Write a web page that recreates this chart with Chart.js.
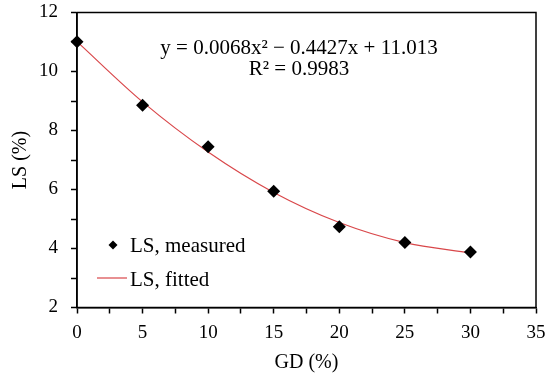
<!DOCTYPE html>
<html>
<head>
<meta charset="utf-8">
<script src="https://cdn.jsdelivr.net/npm/chart.js@4"></script>
<style>
  html, body { margin: 0; padding: 0; background: #fff; }
  #wrap { width: 550px; height: 384px; }
</style>
</head>
<body>
<div id="wrap"><canvas id="ls"></canvas></div>
<script>
// GD (%) where LS was measured
const gd = [0, 5, 10, 15, 20, 25, 30];
// measured LS (%)
const lsMeasured = [11.01, 8.86, 7.45, 5.94, 4.74, 4.2, 3.88];
const lsFitted = [11.013, 8.97, 7.27, 5.9, 4.88, 4.2, 3.85];
const equationLines = ["y = 0.0068x\u00b2 \u2212 0.4427x + 11.013", "R\u00b2 = 0.9983"];

const serif = "'Liberation Serif', 'Times New Roman', serif";
const lineColor = "#d9474a";

// frame, equation and in-plot legend
const extras = {
  id: "extras",
  afterDraw(chart) {
    const { ctx, chartArea: a } = chart;
    ctx.save();
    ctx.strokeStyle = "#000";
    ctx.lineWidth = 1.5;
    ctx.strokeRect(a.left, a.top, a.right - a.left, a.bottom - a.top);

    ctx.fillStyle = "#000";
    ctx.font = "21px " + serif;
    ctx.textAlign = "center";
    ctx.textBaseline = "middle";
    ctx.fillText(equationLines[0], 299, 48);
    ctx.fillText(equationLines[1], 299, 69);

    // legend
    ctx.textAlign = "left";
    ctx.beginPath();
    const mx = 113, my = 245, r = 4.5;
    ctx.moveTo(mx, my - r);
    ctx.lineTo(mx + r, my);
    ctx.lineTo(mx, my + r);
    ctx.lineTo(mx - r, my);
    ctx.closePath();
    ctx.fill();
    ctx.fillText(chart.data.datasets[0].label, 130, 246);

    ctx.strokeStyle = lineColor;
    ctx.lineWidth = 1.2;
    ctx.beginPath();
    ctx.moveTo(97, 278);
    ctx.lineTo(127, 278);
    ctx.stroke();
    ctx.fillText(chart.data.datasets[1].label, 130, 280);
    ctx.restore();
  },
};

new Chart(document.getElementById("ls"), {
  type: "scatter",
  plugins: [extras],
  data: {
    datasets: [
      {
        label: "LS, measured",
        data: gd.map((x, i) => ({ x: x, y: lsMeasured[i] })),
        pointStyle: "rectRot",
        pointRadius: 6.5,
        pointHoverRadius: 6.5,
        backgroundColor: "#000",
        borderColor: "#000",
        borderWidth: 0,
        clip: false,
        order: 0,
      },
      {
        label: "LS, fitted",
        data: gd.map((x, i) => ({ x: x, y: lsFitted[i] })),
        showLine: true,
        cubicInterpolationMode: "monotone",
        borderColor: lineColor,
        borderWidth: 1.2,
        pointRadius: 0,
        clip: false,
        order: 1,
      },
    ],
  },
  options: {
    responsive: true,
    maintainAspectRatio: false,
    animation: false,
    layout: { padding: { top: 12.5, right: 14, left: 0, bottom: 0 } },
    plugins: {
      legend: { display: false },
      tooltip: { enabled: false },
    },
    scales: {
      x: {
        type: "linear",
        min: 0,
        max: 35,
        afterFit(scale) {
          scale.height = 76.5;
          scale.paddingLeft = 0;
          scale.paddingRight = 0;
        },
        border: { display: true, color: "#000", width: 1.5 },
        grid: {
          drawOnChartArea: false,
          drawTicks: true,
          tickLength: 6,
          tickColor: "#000",
          tickWidth: 1.5,
        },
        ticks: {
          stepSize: 2.5,
          autoSkip: false,
          maxRotation: 0,
          padding: 8,
          color: "#000",
          font: { family: serif, size: 19 },
          callback: (v) => (v % 5 === 0 ? String(v) : ""),
        },
        title: {
          display: true,
          text: "GD (%)",
          color: "#000",
          font: { family: serif, size: 20 },
          padding: { top: 0, bottom: 9 },
        },
      },
      y: {
        min: 2,
        max: 12,
        afterFit(scale) {
          scale.width = 77;
          scale.paddingTop = 0;
          scale.paddingBottom = 0;
        },
        border: { display: true, color: "#000", width: 1.5 },
        grid: {
          drawOnChartArea: false,
          drawTicks: true,
          tickLength: 6,
          tickColor: "#000",
          tickWidth: 1.5,
        },
        ticks: {
          stepSize: 1,
          autoSkip: false,
          padding: 13,
          color: "#000",
          font: { family: serif, size: 19 },
          callback: (v) => (v % 2 === 0 ? String(v) : ""),
        },
        title: {
          display: true,
          text: "LS (%)",
          color: "#000",
          font: { family: serif, size: 20 },
          padding: { top: 9, bottom: 0 },
        },
      },
    },
  },
});
</script>
</body>
</html>
